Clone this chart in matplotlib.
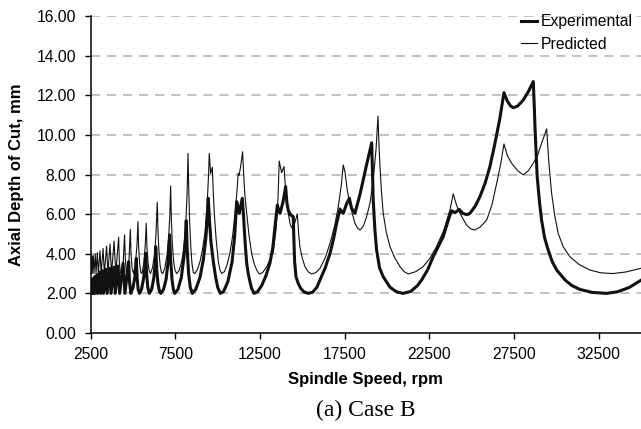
import matplotlib
matplotlib.use("Agg")
import matplotlib.pyplot as plt

# spindle speed (rpm) / axial depth of cut (mm)
exp_rpm = [2500, 2520, 2550, 2585, 2640, 2680, 2750, 2795, 2880, 2930,
           3030, 3090, 3190, 3260, 3390, 3470, 3620, 3700, 3860, 3950,
           4110, 4210, 4410, 4520, 4740, 4790, 4870, 5000, 5120, 5190,
           5240, 5300, 5380, 5500, 5630, 5700, 5750, 5800, 5870, 5960,
           6100, 6230, 6300, 6340, 6400, 6470, 6560, 6640, 6800, 6950,
           7070, 7160, 7220, 7300, 7380, 7460, 7650, 7850, 8000, 8090,
           8140, 8200, 8280, 8380, 8500, 8700, 8950, 9150, 9300, 9400,
           9440, 9520, 9600, 9740, 9880, 10000, 10150, 10350, 10600, 10850,
           11000, 11120, 11200, 11270, 11450, 11520, 11570, 11640, 11710, 11800,
           11900, 12000, 12150, 12350, 12600, 12850, 13080, 13250, 13380, 13520,
           13600, 13680, 13850, 14010, 14080, 14160, 14300, 14460, 14490, 14540,
           14620, 14750, 14900, 15100, 15345, 15600, 15850, 16040, 16350, 16630,
           16850, 17020, 17220, 17320, 17410, 17600, 17770, 17900, 18100, 18400,
           18790, 19090, 19180, 19280, 19380, 19550, 19770, 20170, 20550, 20950,
           21400, 21800, 22040, 22400, 22720, 23010, 23310, 23710, 23810, 24000,
           24130, 24260, 24450, 24590, 24750, 24890, 25200, 25480, 25800, 26070,
           26350, 26650, 26900, 27100, 27300, 27450, 27700, 28040, 28350, 28630,
           28700, 28730, 28860, 29000, 29120, 29300, 29510, 29750, 30010, 30500,
           30900, 31380, 32100, 32960, 33600, 34300, 35000]
exp_depth = [2.60, 2.00, 2.65, 2.00, 2.75, 2.00, 2.85, 2.00, 2.95, 2.00,
             3.08, 2.00, 3.15, 2.00, 3.22, 2.00, 3.27, 2.00, 3.32, 2.00,
             3.38, 2.00, 3.52, 2.00, 3.60, 2.60, 2.00, 2.30, 2.90, 3.77,
             2.80, 2.20, 2.00, 2.20, 2.80, 3.30, 4.02, 3.00, 2.30, 2.00,
             2.20, 2.80, 3.50, 4.36, 3.20, 2.50, 2.10, 2.00, 2.20, 2.70,
             3.60, 4.95, 3.70, 2.70, 2.20, 2.00, 2.20, 2.80, 3.80, 4.70,
             5.67, 4.20, 3.00, 2.30, 2.00, 2.20, 2.80, 3.70, 4.80, 6.00,
             6.80, 5.60, 4.60, 3.60, 2.80, 2.30, 2.00, 2.10, 2.60, 3.60,
             4.90, 6.63, 6.30, 6.04, 6.80, 6.00, 5.20, 4.30, 3.52, 3.00,
             2.60, 2.25, 2.00, 2.08, 2.40, 2.90, 3.52, 4.30, 5.37, 6.46,
             6.20, 6.04, 6.60, 7.39, 6.60, 6.21, 5.96, 5.87, 4.90, 3.60,
             2.84, 2.51, 2.25, 2.07, 2.00, 2.06, 2.30, 2.68, 3.30, 4.02,
             4.80, 5.54, 6.26, 6.10, 6.04, 6.50, 6.80, 6.30, 6.04, 7.00,
             8.50, 9.60, 6.71, 5.20, 4.19, 3.30, 2.84, 2.31, 2.08, 2.00,
             2.10, 2.40, 2.68, 3.20, 3.85, 4.35, 4.86, 5.96, 6.17, 6.07,
             6.15, 6.24, 6.05, 6.00, 5.98, 6.04, 6.40, 6.88, 7.60, 8.40,
             9.50, 10.80, 12.13, 11.70, 11.45, 11.37, 11.45, 11.76, 12.20, 12.69,
             11.20, 10.41, 7.89, 6.60, 5.70, 4.80, 4.19, 3.60, 3.18, 2.68,
             2.40, 2.20, 2.05, 2.00, 2.08, 2.30, 2.67]

pred_rpm = [2500, 2525, 2560, 2590, 2650, 2695, 2770, 2815, 2890, 2950,
            3050, 3115, 3230, 3305, 3440, 3515, 3640, 3730, 3880, 3980,
            4150, 4190, 4250, 4310, 4420, 4500, 4540, 4600, 4660, 4750,
            4840, 4880, 4940, 5030, 5130, 5230, 5290, 5330, 5390, 5460,
            5530, 5630, 5720, 5780, 5820, 5880, 5950, 6030, 6150, 6260,
            6350, 6430, 6470, 6530, 6600, 6680, 6760, 6880, 7000, 7100,
            7170, 7220, 7260, 7320, 7400, 7480, 7580, 7720, 7870, 8000,
            8110, 8190, 8245, 8290, 8340, 8420, 8480, 8560, 8650, 8800,
            8950, 9100, 9250, 9380, 9460, 9500, 9580, 9680, 9740, 9800,
            9900, 10035, 10130, 10230, 10400, 10550, 10720, 10880, 11020, 11130,
            11210, 11260, 11350, 11470, 11530, 11600, 11710, 11850, 12000, 12150,
            12300, 12450, 12650, 12900, 13100, 13280, 13450, 13560, 13630, 13770,
            13910, 14000, 14100, 14260, 14380, 14550, 14700, 14780, 14850, 15000,
            15150, 15350, 15545, 15800, 16040, 16350, 16630, 16900, 17120, 17300,
            17410, 17510, 17650, 17800, 18100, 18250, 18400, 18600, 18790, 19000,
            19180, 19350, 19460, 19520, 19580, 19670, 19770, 19950, 20170, 20450,
            20760, 21000, 21250, 21700, 22130, 22550, 22920, 23350, 23710, 23905,
            24100, 24300, 24690, 24950, 25180, 25500, 25880, 26200, 26470, 26700,
            26900, 27100, 27350, 27700, 28040, 28350, 28630, 28900, 29120, 29300,
            29420, 29550, 29710, 29900, 30100, 30400, 30790, 31350, 31970, 32600,
            33300, 34100, 35000]
pred_depth = [3.70, 3.00, 3.89, 3.00, 3.92, 3.00, 3.99, 3.00, 4.05, 3.00,
              4.15, 3.00, 4.27, 3.00, 4.39, 3.00, 4.49, 3.00, 4.64, 3.00,
              4.83, 3.60, 3.05, 3.00, 3.60, 4.95, 3.80, 3.10, 3.00, 3.50,
              5.23, 4.00, 3.30, 3.00, 3.40, 4.40, 5.62, 4.30, 3.50, 3.05,
              3.00, 3.50, 4.40, 5.54, 4.40, 3.60, 3.15, 3.00, 3.30, 3.90,
              4.90, 6.60, 5.20, 4.10, 3.40, 3.05, 3.00, 3.30, 3.90, 4.80,
              5.90, 7.42, 5.80, 4.50, 3.60, 3.15, 3.00, 3.15, 3.60, 4.30,
              5.50, 7.00, 9.07, 7.20, 5.60, 4.20, 3.50, 3.05, 3.00, 3.20,
              3.60, 4.20, 5.10, 6.60, 8.00, 9.07, 8.05, 8.36, 7.00, 6.00,
              4.80, 3.60, 3.20, 3.00, 3.10, 3.45, 4.02, 4.90, 6.04, 7.10,
              8.06, 7.95, 8.40, 9.15, 8.00, 7.00, 6.04, 4.90, 4.02, 3.50,
              3.18, 2.98, 3.05, 3.35, 3.75, 4.10, 5.30, 6.80, 8.68, 8.09,
              8.40, 7.30, 6.40, 5.54, 5.30, 5.55, 6.02, 5.00, 4.36, 3.75,
              3.35, 3.08, 2.98, 3.05, 3.27, 3.80, 4.53, 5.40, 6.38, 7.50,
              8.48, 8.14, 7.20, 6.50, 5.54, 5.30, 5.20, 5.40, 5.87, 6.60,
              7.72, 9.30, 10.95, 9.50, 8.40, 7.10, 6.04, 5.10, 4.36, 3.80,
              3.35, 3.10, 2.98, 3.10, 3.35, 3.80, 4.36, 5.20, 6.21, 7.02,
              6.45, 6.04, 5.45, 5.25, 5.20, 5.35, 5.70, 6.50, 7.56, 8.50,
              9.54, 8.95, 8.57, 8.20, 7.98, 8.20, 8.57, 9.00, 9.58, 10.00,
              10.30, 8.60, 7.07, 5.90, 5.03, 4.35, 3.85, 3.45, 3.18, 3.04,
              3.00, 3.08, 3.27]

x_ticks = [2500, 7500, 12500, 17500, 22500, 27500, 32500]
y_ticks = [0, 2, 4, 6, 8, 10, 12, 14, 16]

plt.rcParams['font.family'] = ['Liberation Sans', 'DejaVu Sans']

fig = plt.figure(figsize=(6.41, 4.29), dpi=100)
ax = fig.add_axes([90.7 / 641, 96 / 429, (641 - 90.7) / 641, 317 / 429])

for y in y_ticks[1:]:
    ax.axhline(y, color='#b0b0b0', lw=1.1, ls=(0, (6, 4.5)), zorder=1)

ax.plot(exp_rpm, exp_depth, color='#111111', lw=2.2, label='Experimental',
        zorder=3)
ax.plot(pred_rpm, pred_depth, color='#111111', lw=0.8, label='Predicted',
        zorder=4)

ax.set_xlim(2500, 34990)
ax.set_ylim(0, 16)
ax.set_xticks(x_ticks)
ax.set_xticklabels([str(v) for v in x_ticks])
ax.set_yticks(y_ticks)
ax.set_yticklabels([f'{v:.2f}' for v in y_ticks])
ax.tick_params(axis='both', direction='out', length=4.3, width=1,
               labelsize=11.3, color='black')
ax.tick_params(axis='y', pad=6)
ax.tick_params(axis='x', pad=6)
for s in ['top', 'right']:
    ax.spines[s].set_visible(False)
ax.spines['left'].set_linewidth(1.1)
ax.spines['bottom'].set_linewidth(1.1)

ax.set_xlabel('Spindle Speed, rpm', fontsize=12, fontweight='bold', labelpad=7)
ax.set_ylabel('Axial Depth of Cut, mm', fontsize=12, fontweight='bold', labelpad=9)

fig.legend(loc='upper left', bbox_to_anchor=(521 / 641, 1 - 14 / 429),
           frameon=False, fontsize=11.3, handlelength=1.05, handletextpad=0.2,
           labelspacing=0.5, borderaxespad=0, borderpad=0)

fig.text(366 / 641, 1 - 410 / 429, '(a) Case B', ha='center', va='center',
         fontsize=17, family='Liberation Serif')

fig.savefig('out.png', dpi=100)
